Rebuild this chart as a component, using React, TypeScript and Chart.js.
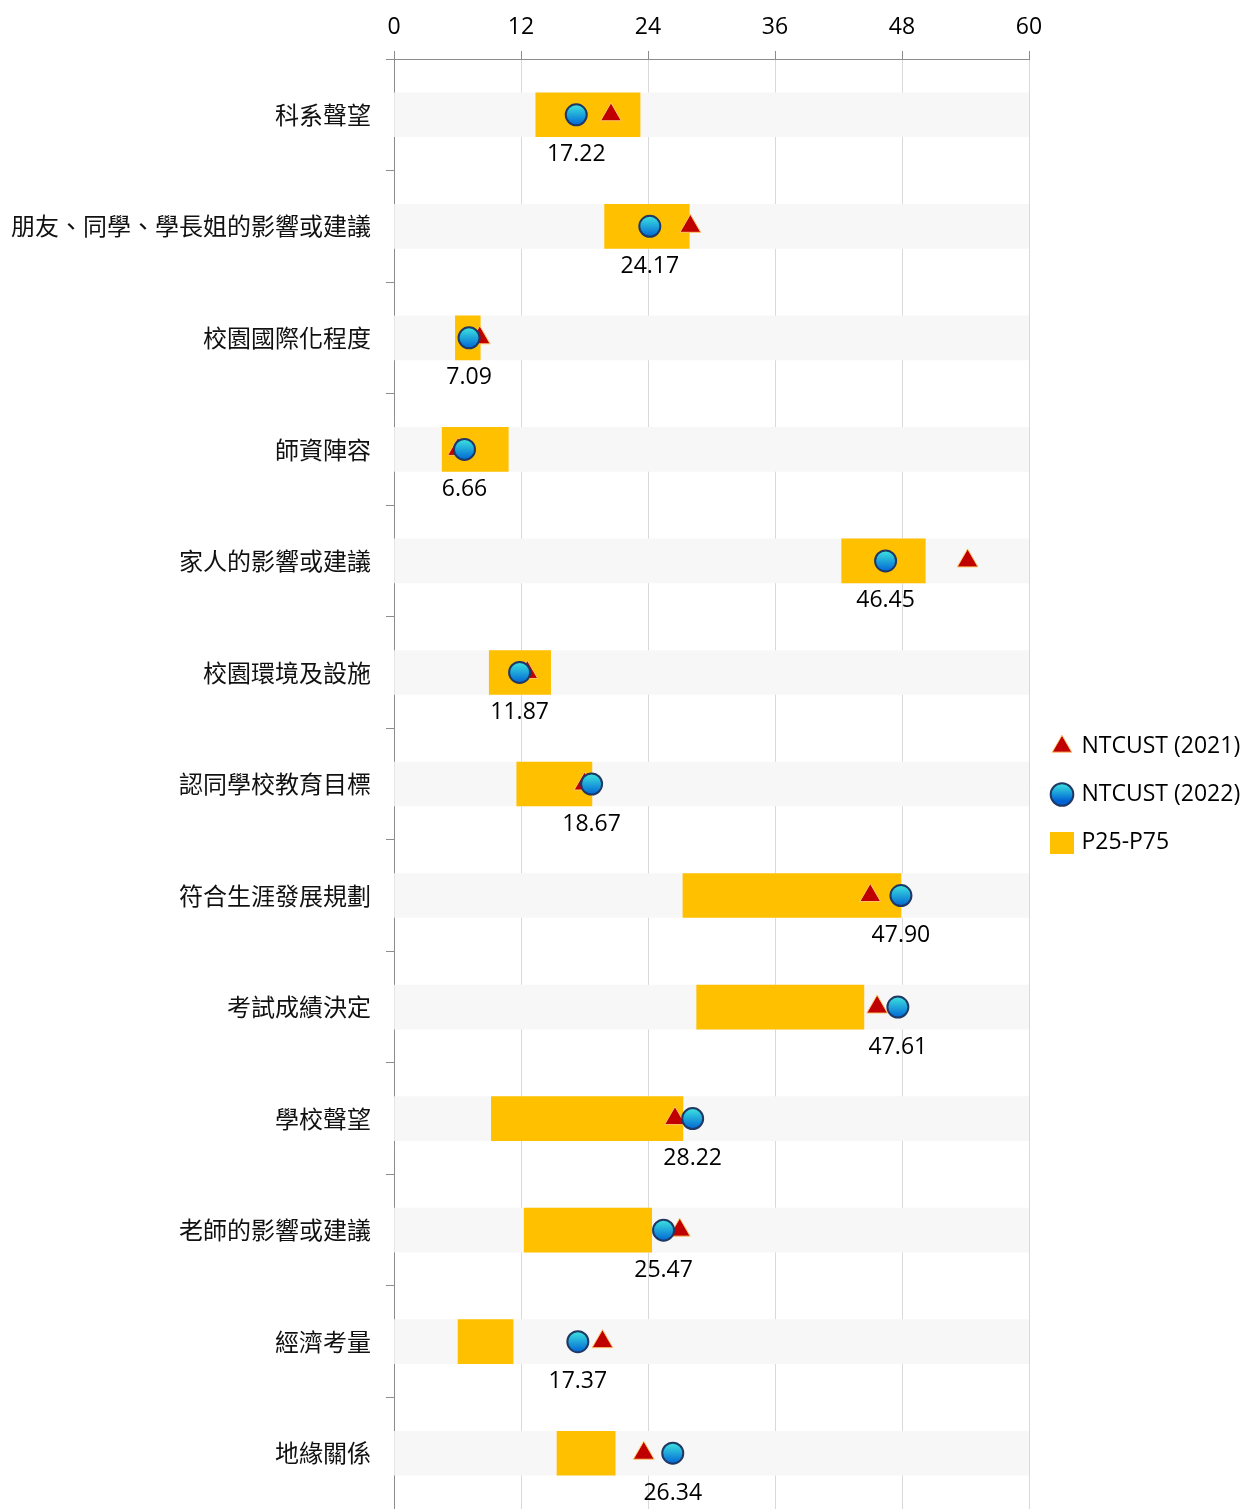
import React, { useEffect, useRef } from "react";
import { Chart, registerables } from "chart.js";

Chart.register(...registerables);

const categories = [
  "科系聲望",
  "朋友、同學、學長姐的影響或建議",
  "校園國際化程度",
  "師資陣容",
  "家人的影響或建議",
  "校園環境及設施",
  "認同學校教育目標",
  "符合生涯發展規劃",
  "考試成績決定",
  "學校聲望",
  "老師的影響或建議",
  "經濟考量",
  "地緣關係",
];

const ntcust2021 = [20.5, 28.0, 8.1, 6.05, 54.2, 12.6, 18.0, 45.0, 45.65, 26.55, 27.0, 19.7, 23.6];
const ntcust2022 = [17.22, 24.17, 7.09, 6.66, 46.45, 11.87, 18.67, 47.9, 47.61, 28.22, 25.47, 17.37, 26.34];
const p25 = [13.4, 19.9, 5.8, 4.55, 42.3, 9.0, 11.6, 27.3, 28.6, 9.2, 12.3, 6.05, 15.4];
const p75 = [23.25, 27.9, 8.15, 10.8, 50.2, 14.8, 18.7, 47.9, 44.4, 27.3, 24.35, 11.25, 20.9];
const bandRange = [0, 60];
const xTicks = [0, 12, 24, 36, 48, 60];
const seriesNames = ["NTCUST (2021)", "NTCUST (2022)", "P25-P75"];

const LATIN = '"Open Sans", "Noto Sans", sans-serif';
const CJK = '"Noto Sans CJK TC", "Noto Sans", sans-serif';

function circleGradient(ctx: CanvasRenderingContext2D, y: number, r: number) {
  if (!Number.isFinite(y)) return "#18a4e4";
  const g = ctx.createLinearGradient(0, y - r, 0, y + r);
  g.addColorStop(0, "#3ee8e0");
  g.addColorStop(1, "#0062d4");
  return g;
}

function legendRect() {
  const c = document.createElement("canvas");
  c.width = 24;
  c.height = 22;
  const cx = c.getContext("2d");
  if (cx) {
    cx.fillStyle = "#ffc000";
    cx.fillRect(0, 0, 24, 22);
  }
  return c;
}

const valueLabels = {
  id: "valueLabels",
  afterDatasetsDraw(chart: any) {
    const { ctx, scales } = chart;
    ctx.save();
    ctx.font = `23px ${LATIN}`;
    ctx.fillStyle = "#000000";
    ctx.textAlign = "center";
    ctx.textBaseline = "middle";
    ntcust2022.forEach((v, i) => {
      const x = scales.x.getPixelForValue(v);
      const y = scales.y.getPixelForValue(i) + 40;
      ctx.fillText(v.toFixed(2), x, y);
    });
    ctx.restore();
  },
};

export default function App() {
  const ref = useRef<HTMLCanvasElement | null>(null);

  useEffect(() => {
    if (!ref.current) return;
    const rectMarker = legendRect();
    const chart = new Chart(ref.current, {
      type: "bar",
      data: {
        labels: categories,
        datasets: [
          {
            type: "bar",
            label: "band",
            data: categories.map(() => bandRange as any),
            backgroundColor: "#f7f7f7",
            barThickness: 44,
            grouped: false,
            order: 4,
          } as any,
          {
            type: "bar",
            label: seriesNames[2],
            data: categories.map((_, i) => [p25[i], p75[i]] as any),
            backgroundColor: "#ffc000",
            barThickness: 44,
            grouped: false,
            order: 3,
          } as any,
          {
            type: "scatter",
            label: seriesNames[0],
            data: categories.map((c, i) => ({ x: ntcust2021[i], y: c })) as any,
            pointStyle: "triangle",
            pointRadius: 12,
            pointHoverRadius: 12,
            backgroundColor: "#c00000",
            borderColor: "#ffc76a",
            borderWidth: 1,
            clip: false,
            order: 2,
          } as any,
          {
            type: "scatter",
            label: seriesNames[1],
            data: categories.map((c, i) => ({ x: ntcust2022[i], y: c })) as any,
            pointStyle: "circle",
            pointRadius: 10.5,
            pointHoverRadius: 10.5,
            backgroundColor: (c: any) => {
              const ch = c.chart;
              const ys = ch.scales && ch.scales.y;
              if (!ys || c.dataIndex == null) return "#18a4e4";
              const y = ys.getPixelForValue(c.dataIndex);
              return circleGradient(ch.ctx, y, 11);
            },
            borderColor: "#1f3864",
            borderWidth: 2,
            clip: false,
            order: 1,
          } as any,
        ],
      },
      options: {
        indexAxis: "y",
        responsive: false,
        animation: false,
        layout: { padding: 0, autoPadding: false },
        scales: {
          x: {
            type: "linear",
            position: "top",
            min: 0,
            max: 60,
            afterBuildTicks: (scale: any) => {
              scale.ticks = xTicks.map((v) => ({ value: v }));
            },
            afterFit: (scale: any) => {
              scale.height = 59;
              scale.paddingLeft = 0;
              scale.paddingRight = 0;
            },
            ticks: {
              font: { family: LATIN, size: 23 },
              color: "#000000",
              padding: 10,
            },
            grid: {
              color: "#d9d9d9",
              lineWidth: 1,
              drawTicks: true,
              tickLength: 8,
              tickColor: "#8c8c8c",
            },
            border: { display: true, color: "#8c8c8c", width: 1 },
          },
          y: {
            type: "category",
            offset: true,
            afterFit: (scale: any) => {
              scale.width = 394;
              scale.paddingTop = 0;
              scale.paddingBottom = 0;
            },
            ticks: {
              font: { family: CJK, size: 24 },
              color: "#111111",
              padding: 15,
              autoSkip: false,
            },
            grid: {
              offset: true,
              drawOnChartArea: false,
              drawTicks: true,
              tickLength: 8,
              tickColor: "#8c8c8c",
            },
            border: { display: true, color: "#8c8c8c", width: 1 },
          },
        },
        plugins: {
          tooltip: { enabled: false },
          legend: {
            display: true,
            position: "right",
            align: "center",
            maxWidth: 213,
            title: {
              display: true,
              text: "",
              padding: 0,
              font: { size: 1, lineHeight: 80 },
            },
            labels: {
              usePointStyle: true,
              boxWidth: 16,
              boxHeight: 16,
              padding: 25,
              color: "#000000",
              font: { family: LATIN, size: 23 },
              generateLabels: (ch: any) => {
                const g = circleGradient(ch.ctx, 792, 9);
                return [
                  {
                    text: seriesNames[0],
                    fillStyle: "#c00000",
                    strokeStyle: "#ffc76a",
                    lineWidth: 1,
                    pointStyle: "triangle",
                    hidden: false,
                    datasetIndex: 2,
                    fontColor: "#000000",
                  },
                  {
                    text: seriesNames[1],
                    fillStyle: g,
                    strokeStyle: "#1f3864",
                    lineWidth: 2,
                    pointStyle: "circle",
                    hidden: false,
                    datasetIndex: 3,
                    fontColor: "#000000",
                  },
                  {
                    text: seriesNames[2],
                    fillStyle: "#ffc000",
                    strokeStyle: "#ffc000",
                    lineWidth: 0,
                    pointStyle: rectMarker,
                    hidden: false,
                    datasetIndex: 1,
                    fontColor: "#000000",
                  },
                ];
              },
            },
          },
        },
      } as any,
      plugins: [valueLabels],
    });
    return () => chart.destroy();
  }, []);

  return (
    <div style={{ position: "absolute", left: 0, top: 0, width: 1242, height: 1509, background: "#ffffff" }}>
      <canvas ref={ref} width={1242} height={1509} style={{ display: "block" }} />
    </div>
  );
}
